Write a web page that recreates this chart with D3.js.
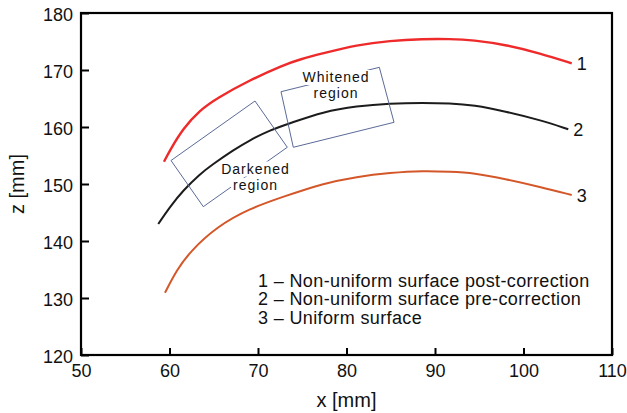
<!DOCTYPE html>
<html>
<head>
<meta charset="utf-8">
<script src="https://cdn.jsdelivr.net/npm/d3@7"></script>
<style>
  body { margin: 0; background: #fff; }
  text { font-family: "Liberation Sans", Arial, sans-serif; fill: #111; }
</style>
</head>
<body>
<div id="chart"></div>
<script>
// tick values
const xTicks = [50, 60, 70, 80, 90, 100, 110];
const zTicks = [120, 130, 140, 150, 160, 170, 180];

// curve 1 - post-correction (x, z in mm)
const xPost = [59.38, 60.06, 61.56, 63.45, 65.33, 69.10, 72.86, 74.75, 77.34, 81.15, 84.92, 88.64, 91.69, 94.29, 98.10, 101.86, 105.45];
const zPost = [153.91, 155.96, 159.8, 162.98, 165.04, 168.25, 170.88, 171.88, 172.93, 174.39, 175.14, 175.44, 175.44, 175.26, 174.39, 172.93, 171.18];

// curve 2 - pre-correction
const xPre = [58.73, 60.06, 61.56, 63.45, 64.77, 67.21, 69.10, 71.36, 73.62, 77.38, 81.15, 84.92, 88.68, 91.69, 94.33, 98.10, 101.86, 105.06];
const zPre = [142.98, 146.02, 148.9, 151.75, 153.33, 155.96, 157.72, 159.47, 160.65, 162.68, 163.68, 164.16, 164.26, 164.16, 163.86, 162.68, 161.23, 159.6];

// curve 3 - uniform surface
const xUni = [59.49, 60.81, 62.32, 65.33, 69.10, 72.86, 77.38, 81.15, 84.92, 88.68, 91.69, 94.33, 98.10, 101.86, 105.45];
const zUni = [130.93, 134.91, 138.12, 142.51, 145.74, 147.77, 150.12, 151.28, 151.98, 152.33, 152.16, 151.98, 150.82, 149.5, 148.07];

// annotated regions (corners in mm)
const darkX = [60.17, 69.66, 73.31, 63.82];
const darkZ = [154.12, 164.56, 156.44, 146.02];
const whiteX = [72.60, 83.71, 85.37, 73.99];
const whiteZ = [166.19, 170.47, 160.82, 156.44];

const curveNames = ["1", "2", "3"];
const legendLines = [
  "1 \u2013 Non-uniform surface post-correction",
  "2 \u2013 Non-uniform surface pre-correction",
  "3 \u2013 Uniform surface"
];

const W = 627, H = 413;
const margin = {top: 13, right: 15, bottom: 58, left: 81};
const width = W - margin.left - margin.right,
      height = H - margin.top - margin.bottom;

const svg = d3.select("#chart").append("svg")
  .attr("width", W).attr("height", H);
const g = svg.append("g")
  .attr("transform", `translate(${margin.left},${margin.top})`);

const x = d3.scaleLinear().domain([50, 110]).range([0, width]);
const y = d3.scaleLinear().domain([120, 180]).range([height, 0]);

// axes with inward ticks
const xAxis = g.append("g")
  .attr("transform", `translate(0,${height})`)
  .call(d3.axisBottom(x).tickValues(xTicks).tickSize(-7).tickPadding(9).tickFormat(d3.format("d")));
const yAxis = g.append("g")
  .call(d3.axisLeft(y).tickValues(zTicks).tickSize(-8).tickPadding(8).tickFormat(d3.format("d")));
[xAxis, yAxis].forEach(a => {
  a.select(".domain").remove();
  a.selectAll("line").attr("stroke", "#000").attr("stroke-width", 2);
  a.selectAll("text").attr("font-size", 18).attr("fill", "#111")
    .attr("font-family", "Liberation Sans, Arial, sans-serif");
});
yAxis.selectAll("text").attr("dy", "0.4em");

g.append("rect")
  .attr("width", width).attr("height", height)
  .attr("fill", "none").attr("stroke", "#000").attr("stroke-width", 2.2);

// curves
const series = [
  {xs: xPost, zs: zPost, color: "#ee2a2a", w: 2.4},
  {xs: xPre, zs: zPre, color: "#1c1c1c", w: 2},
  {xs: xUni, zs: zUni, color: "#d4572a", w: 2}
];
const line = d3.line()
  .x(d => x(d[0])).y(d => y(d[1]))
  .curve(d3.curveBasis);

series.forEach((s, i) => {
  const pts = s.xs.map((v, j) => [v, s.zs[j]]);
  g.append("path")
    .datum(pts)
    .attr("d", line)
    .attr("fill", "none")
    .attr("stroke", s.color)
    .attr("stroke-width", s.w);
  const last = pts[pts.length - 1];
  g.append("text")
    .attr("x", x(last[0]) + 5)
    .attr("y", y(last[1]) + 6.5)
    .attr("font-size", 18)
    .text(curveNames[i]);
});

// region boxes
const boxLine = d3.line().x(d => x(d[0])).y(d => y(d[1]));
[[darkX, darkZ], [whiteX, whiteZ]].forEach(([bx, bz]) => {
  g.append("path")
    .attr("d", boxLine(bx.map((v, j) => [v, bz[j]])) + "Z")
    .attr("fill", "none")
    .attr("stroke", "#5b6a98")
    .attr("stroke-width", 1);
});

// region labels with white backing behind each line
function label(lines, cx, y0, dy) {
  const grp = svg.append("g");
  lines.forEach((t, i) => {
    const txt = grp.append("text")
      .attr("x", cx).attr("y", y0 + i * dy)
      .attr("text-anchor", "middle")
      .attr("font-size", 14)
      .attr("letter-spacing", 1)
      .text(t);
    const bb = txt.node().getBBox();
    grp.insert("rect", "text")
      .attr("x", bb.x - 2).attr("y", bb.y + 1)
      .attr("width", bb.width + 3).attr("height", bb.height - 1)
      .attr("fill", "#fff");
  });
}
label(["Whitened", "region"], 336, 82, 16.3);
label(["Darkened", "region"], 255.5, 173.5, 16.3);

// legend
legendLines.forEach((t, i) => {
  svg.append("text")
    .attr("x", 258).attr("y", 286.7 + i * 18.7)
    .attr("font-size", 18)
    .attr("letter-spacing", 0.37)
    .text(t);
});

// axis titles
svg.append("text")
  .attr("x", margin.left + width / 2).attr("y", 406.5)
  .attr("text-anchor", "middle").attr("font-size", 20)
  .text("x [mm]");
svg.append("text")
  .attr("transform", `translate(24,${margin.top + height / 2}) rotate(-90)`)
  .attr("text-anchor", "middle").attr("font-size", 20)
  .text("z [mm]");
</script>
</body>
</html>
